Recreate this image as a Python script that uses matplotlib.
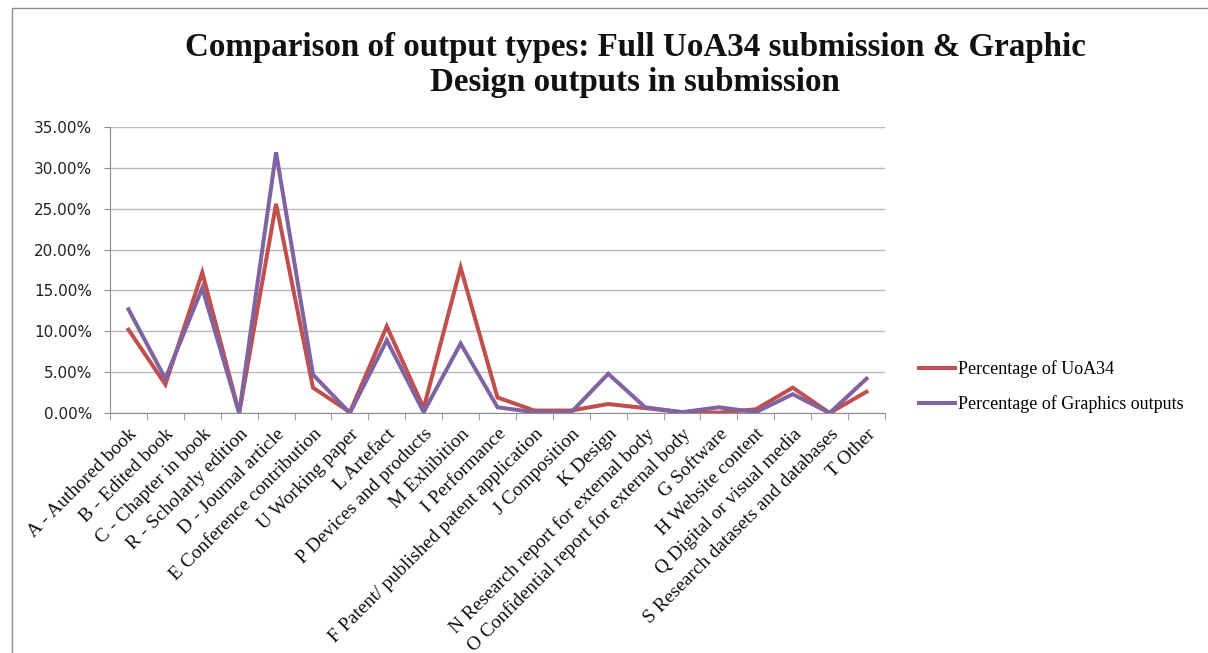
import matplotlib
matplotlib.use("Agg")
import matplotlib.pyplot as plt
from matplotlib.patches import Rectangle
import numpy as np

categories = [
    "A - Authored book", "B - Edited book", "C - Chapter in book",
    "R - Scholarly edition", "D - Journal article", "E Conference contribution",
    "U Working paper", "L Artefact", "P Devices and products", "M Exhibition",
    "I Performance", "F Patent/ published patent application", "J Composition",
    "K Design", "N Research report for external body",
    "O Confidential report for external body", "G Software",
    "H Website content", "Q Digital or visual media",
    "S Research datasets and databases", "T Other",
]
uoa34 = [10.2, 3.5, 17.2, 0.0, 25.6, 3.1, 0.1, 10.6, 0.6, 17.8,
         1.9, 0.3, 0.3, 1.1, 0.6, 0.1, 0.05, 0.45, 3.1, 0.0, 2.6]
graphics = [12.7, 4.2, 15.3, 0.0, 31.9, 4.7, 0.0, 8.9, 0.1, 8.5,
            0.7, 0.1, 0.1, 4.8, 0.7, 0.1, 0.7, 0.1, 2.3, 0.0, 4.2]
series_names = ["Percentage of UoA34", "Percentage of Graphics outputs"]
yticks = [0, 5, 10, 15, 20, 25, 30, 35]

fig = plt.figure(figsize=(12.08, 6.53), dpi=100)
fig.patch.set_facecolor("white")

# outer chart frame
fig.add_artist(Rectangle((12 / 1208, -0.01), 1.5, 1 - 8 / 653 + 0.01,
                         transform=fig.transFigure, fill=False,
                         edgecolor="#8c8c8c", linewidth=1.0))

ax = fig.add_axes([110 / 1208, 1 - 413 / 653, 775 / 1208, 286 / 653])
x = np.arange(len(categories))
ax.plot(x, uoa34, color="#C0504D", linewidth=2.9, label=series_names[0],
        solid_joinstyle="miter")
ax.plot(x, graphics, color="#8064A2", linewidth=2.9, label=series_names[1],
        solid_joinstyle="miter")

ax.set_xlim(-0.5, len(categories) - 0.5)
ax.set_ylim(0, 35)
ax.set_yticks(yticks)
ax.set_yticklabels([f"{v:.2f}%" for v in yticks], fontsize=11,
                   family="DejaVu Sans", color="#222222")
ax.yaxis.grid(True, color="#b8b8b8", linewidth=1.0)
ax.set_axisbelow(True)

ax.set_xticks(x)
ax.set_xticklabels(categories, rotation=45, ha="right",
                   rotation_mode="anchor", fontsize=14,
                   family="Liberation Serif", color="#111111")
ax.set_xticks(np.arange(-0.5, len(categories)), minor=True)
ax.tick_params(axis="x", which="major", length=0, pad=9)
ax.tick_params(axis="x", which="minor", length=5, color="#8c8c8c")
ax.tick_params(axis="y", length=4, color="#8c8c8c", pad=9)

for s in ["top", "right"]:
    ax.spines[s].set_visible(False)
for s in ["left", "bottom"]:
    ax.spines[s].set_color("#8c8c8c")

fig.text(0.526, 1 - 65 / 653,
         "Comparison of output types: Full UoA34 submission & Graphic\nDesign outputs in submission",
         ha="center", va="center", fontsize=23.8, fontweight="bold",
         family="Liberation Serif", linespacing=1.2, color="#111111")

leg = fig.legend(loc="upper left", bbox_to_anchor=(903 / 1208, 1 - 344 / 653),
                 frameon=False, prop={"family": "Liberation Serif", "size": 13},
                 handlelength=2.0, handletextpad=0.12, labelspacing=0.95)

fig.savefig("out.png", dpi=100, facecolor="white")
